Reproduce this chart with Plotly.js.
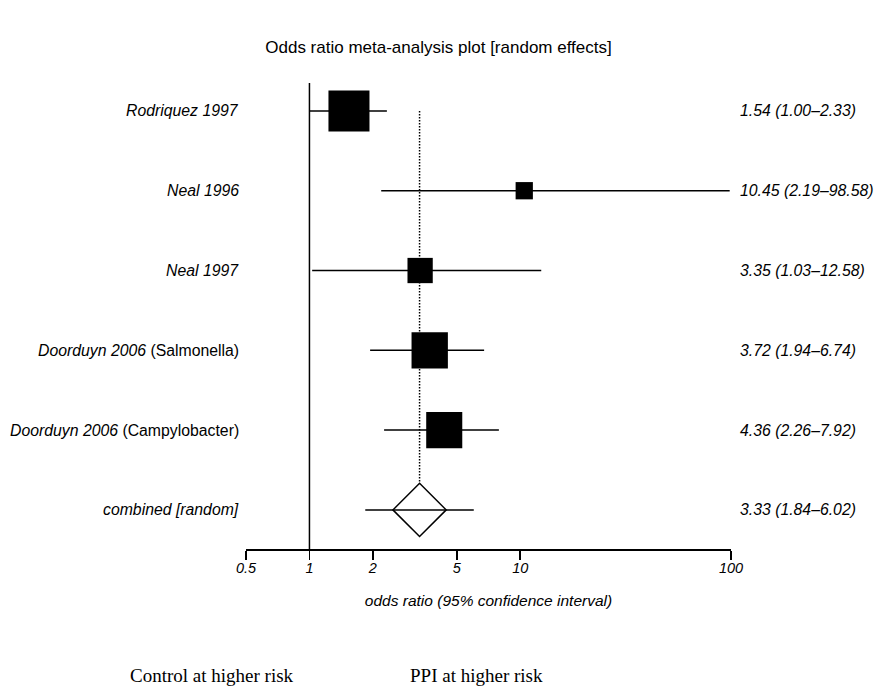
<!DOCTYPE html>
<html>
<head>
<meta charset="utf-8">
<script src="https://cdn.plot.ly/plotly-3.0.1.min.js"></script>
<style>html,body{margin:0;padding:0;background:#fff;}#chart{width:877px;height:688px;}</style>
</head>
<body>
<div id="chart"></div>
<script>
// ---- data ----
const studies = ["Rodriquez 1997", "Neal 1996", "Neal 1997", "Doorduyn 2006", "Doorduyn 2006"];
const subgroups = ["", "", "", "Salmonella", "Campylobacter"];
const oddsRatio = [1.54, 10.45, 3.35, 3.72, 4.36];
const ciLower = [1.00, 2.19, 1.03, 1.94, 2.26];
const ciUpper = [2.33, 98.58, 12.58, 6.74, 7.92];
const weights = [32.1, 5.7, 12.2, 25.2, 24.8];   // % weight (box area)
const pooledLabel = "combined [random]";
const pooledOR = 3.33;
const pooledLower = 1.84;
const pooledUpper = 6.02;
const tickValues = [0.5, 1, 2, 5, 10, 100];
const tickLabels = ["0.5", "1", "2", "5", "10", "100"];

// ---- layout constants ----
const W = 877, H = 688;
const M = {l: 246, r: 146, t: 83, b: 139};
const plotW = W - M.l - M.r, plotH = H - M.t - M.b;
const yRange = [5.49, -0.35];
const pxPerRow = plotH / (yRange[0] - yRange[1]);
const px2paperX = px => (px - M.l) / plotW;
const px2paperY = py => (H - M.b - py) / plotH;
const FONT = "Liberation Sans, Arial, Helvetica, sans-serif";
const SERIF = "Liberation Serif, Times New Roman, serif";
const fmt = v => v.toFixed(2);

const n = studies.length;
const rows = studies.map((_, i) => i);
const pooledRow = n;
const diamondSize = 41;
const diamondHalf = diamondSize * 1.3 / 2 / pxPerRow;

const traces = [];
// CI lines
for (let i = 0; i < n; i++) {
  traces.push({
    type: "scatter", mode: "lines", x: [ciLower[i], ciUpper[i]], y: [rows[i], rows[i]],
    line: {color: "#000", width: 1.5}, hoverinfo: "skip", showlegend: false
  });
}
// pooled CI line
traces.push({
  type: "scatter", mode: "lines", x: [pooledLower, pooledUpper], y: [pooledRow, pooledRow],
  line: {color: "#000", width: 1.5}, hoverinfo: "skip", showlegend: false
});
// dotted pooled-estimate line
traces.push({
  type: "scatter", mode: "lines", x: [pooledOR, pooledOR], y: [rows[0], pooledRow - diamondHalf],
  line: {color: "#000", width: 1.5, dash: "1.5px,1.5px"}, hoverinfo: "skip", showlegend: false
});
// boxes
traces.push({
  type: "scatter", mode: "markers", x: oddsRatio, y: rows,
  marker: {symbol: "square", color: "#000", opacity: 1, size: weights.map(w => 7.24 * Math.sqrt(w)), line: {width: 0}},
  cliponaxis: false, showlegend: false
});
// pooled diamond
traces.push({
  type: "scatter", mode: "markers", x: [pooledOR], y: [pooledRow],
  marker: {symbol: "diamond-open", color: "#000", opacity: 1, size: diamondSize, line: {width: 1.5, color: "#000"}},
  cliponaxis: false, showlegend: false
});

const annotations = [];
const labelFont = {family: FONT, size: 15.8, color: "#000"};
for (let i = 0; i <= n; i++) {
  const name = i < n ? studies[i] : pooledLabel;
  const sub = i < n ? subgroups[i] : "";
  const or = i < n ? oddsRatio[i] : pooledOR;
  const lo = i < n ? ciLower[i] : pooledLower;
  const hi = i < n ? ciUpper[i] : pooledUpper;
  annotations.push({
    xref: "paper", yref: "y", x: px2paperX(241), y: i, xanchor: "right", yanchor: "middle",
    text: "<i>" + name + "</i>" + (sub ? " (" + sub + ")" : ""), showarrow: false, font: labelFont
  });
  annotations.push({
    xref: "paper", yref: "y", x: px2paperX(738), y: i, xanchor: "left", yanchor: "middle",
    text: "<i>" + fmt(or) + " (" + fmt(lo) + "\u2013" + fmt(hi) + ")</i>", showarrow: false, font: labelFont
  });
}
const serifFont = {family: SERIF, size: 19, color: "#000"};
annotations.push({xref: "paper", yref: "paper", x: px2paperX(128), y: px2paperY(675), xanchor: "left", yanchor: "middle",
  text: "Control at higher risk", showarrow: false, font: serifFont});
annotations.push({xref: "paper", yref: "paper", x: px2paperX(408), y: px2paperY(675), xanchor: "left", yanchor: "middle",
  text: "PPI at higher risk", showarrow: false, font: serifFont});

const layout = {
  width: W, height: H, margin: M,
  paper_bgcolor: "#fff", plot_bgcolor: "#fff",
  title: {text: "Odds ratio meta-analysis plot [random effects]", x: 0.5, xref: "container", xanchor: "center",
    y: 1 - 47 / H, yref: "container", yanchor: "middle", font: {family: FONT, size: 17, color: "#000"}},
  xaxis: {
    type: "log", range: [Math.log10(0.5), 2], tickvals: tickValues, ticktext: tickLabels,
    ticks: "outside", ticklen: 9, tickwidth: 1.5, tickcolor: "#000", ticklabelstandoff: -4,
    showline: true, linecolor: "#000", linewidth: 1.5, showgrid: false, zeroline: false,
    tickfont: {family: FONT, size: 14.5, color: "#000", style: "italic"},
    title: {text: "odds ratio (95% confidence interval)", font: {family: FONT, size: 15.5, color: "#000", style: "italic"}}
  },
  yaxis: {range: yRange, visible: false, showgrid: false, zeroline: false},
  shapes: [{type: "line", xref: "x", yref: "paper", x0: 1, x1: 1, y0: 0, y1: 1, line: {color: "#000", width: 1.5}}],
  annotations: annotations,
  showlegend: false
};

Plotly.newPlot("chart", traces, layout, {displayModeBar: false, staticPlot: true});
</script>
</body>
</html>
